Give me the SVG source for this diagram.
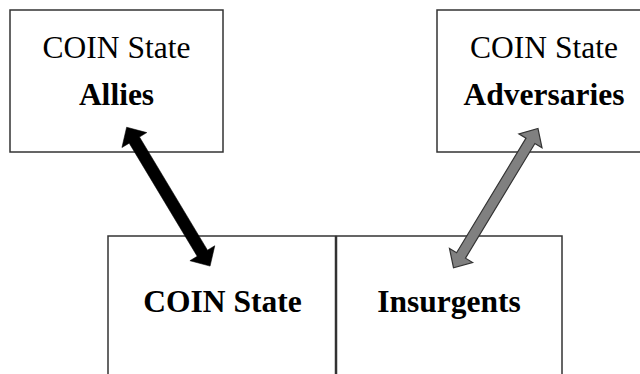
<svg xmlns="http://www.w3.org/2000/svg" width="640" height="374" viewBox="0 0 640 374">
<style>
.box{fill:#ffffff;stroke:#333333;stroke-width:1.5}
.t{font-family:"Liberation Serif","Times New Roman",serif;font-size:31.5px;fill:#000000;text-anchor:middle}
.b{font-weight:bold}
</style>
<rect width="640" height="374" fill="#ffffff"/>
<g id="allies">
<rect class="box" x="10" y="10" width="213" height="142"/>
<text class="t" x="116.5" y="58">COIN State</text>
<text class="t b" x="116.5" y="105">Allies</text>
</g>
<g id="adversaries">
<rect class="box" x="437" y="10" width="220" height="142"/>
<text class="t" x="544" y="58">COIN State</text>
<text class="t b" x="544" y="105">Adversaries</text>
</g>
<g id="coin-state">
<rect class="box" x="108" y="236" width="227.5" height="160"/>
<text class="t b" x="222.5" y="312">COIN State</text>
</g>
<g id="insurgents">
<rect class="box" x="336.5" y="236" width="225.5" height="160"/>
<text class="t b" x="449" y="312">Insurgents</text>
</g>
<g id="connectors">
<path transform="translate(168.35 196.65) rotate(59)" fill="#000000" stroke="#000000" stroke-width="0.5" d="M-81 0 L-66 -14.5 L-66 -6 L66 -6 L66 -14.5 L81 0 L66 14.5 L66 6 L-66 6 L-66 14.5 Z"/>
<path transform="translate(495.75 198.15) rotate(-58.8)" fill="#808080" stroke="#333333" stroke-width="1.2" d="M-81.5 0 L-67 -13.5 L-67 -5.2 L67 -5.2 L67 -13.5 L81.5 0 L67 13.5 L67 5.2 L-67 5.2 L-67 13.5 Z"/>
</g>
</svg>
